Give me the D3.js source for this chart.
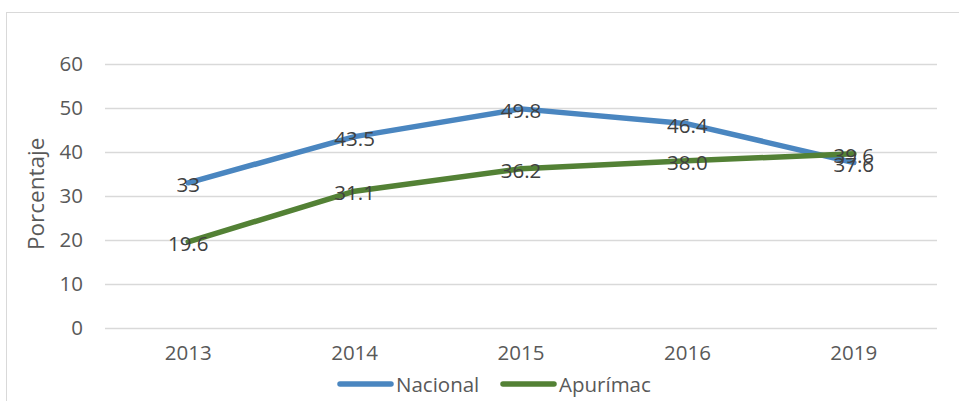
<!DOCTYPE html>
<html>
<head>
<meta charset="utf-8">
<script src="https://cdn.jsdelivr.net/npm/d3@7"></script>
<style>
  body { margin: 0; background: #fff; }
  svg text { font-family: "Open Sans", sans-serif; }
</style>
</head>
<body>
<div id="chart"></div>
<script>
// values
const years = ["2013", "2014", "2015", "2016", "2019"];
const nacional = [33, 43.5, 49.8, 46.4, 37.6];
const apurimac = [19.6, 31.1, 36.2, 38.0, 39.6];
const nacionalLabels = ["33", "43.5", "49.8", "46.4", "37.6"];
const apurimacLabels = ["19.6", "31.1", "36.2", "38.0", "39.6"];
const yTicks = [0, 10, 20, 30, 40, 50, 60];

const W = 959, H = 401;
const margin = { top: 64, right: 22, bottom: 73, left: 105 };
const width = W - margin.left - margin.right;
const height = H - margin.top - margin.bottom;
const fontSize = "20.5px";

const svg = d3.select("#chart").append("svg")
  .attr("width", W)
  .attr("height", H);

// chart area border
svg.append("rect")
  .attr("x", 6.5).attr("y", 12.5)
  .attr("width", W + 10).attr("height", H + 10)
  .attr("fill", "none")
  .attr("stroke", "#d9d9d9")
  .attr("stroke-width", 1);

const g = svg.append("g")
  .attr("transform", `translate(${margin.left},${margin.top})`);

const x = d3.scaleBand().domain(years).range([0, width]);
const y = d3.scaleLinear().domain([0, 60]).range([height, 0]);

// gridlines
g.append("g")
  .call(d3.axisLeft(y).tickValues(yTicks).tickSize(-width).tickFormat(""))
  .call(a => a.select(".domain").remove())
  .call(a => a.selectAll("line").attr("stroke", "#d9d9d9").attr("stroke-width", 1.5));

// y tick labels
g.append("g")
  .call(d3.axisLeft(y).tickValues(yTicks).tickSize(0).tickPadding(22))
  .call(a => a.select(".domain").remove())
  .call(a => a.selectAll("text").attr("fill", "#595959").style("font-size", fontSize));

// x tick labels
g.append("g")
  .attr("transform", `translate(0,${height})`)
  .call(d3.axisBottom(x).tickSize(0).tickPadding(17))
  .call(a => a.select(".domain").remove())
  .call(a => a.selectAll("text").attr("fill", "#595959").style("font-size", fontSize));

// y axis title
svg.append("text")
  .attr("transform", `translate(35,${margin.top + y(30.5)}) rotate(-90)`)
  .attr("text-anchor", "middle")
  .attr("dominant-baseline", "central")
  .attr("fill", "#595959")
  .style("font-size", "22.5px")
  .text("Porcentaje");

const series = [
  { name: "Nacional", values: nacional, labels: nacionalLabels, color: "#4a86c0" },
  { name: "Apurímac", values: apurimac, labels: apurimacLabels, color: "#538135" }
];

const line = d3.line()
  .x((d, i) => x(years[i]) + x.bandwidth() / 2)
  .y(d => y(d));

series.forEach(s => {
  g.append("path")
    .datum(s.values)
    .attr("fill", "none")
    .attr("stroke", s.color)
    .attr("stroke-width", 5.5)
    .attr("stroke-linecap", "round")
    .attr("stroke-linejoin", "round")
    .attr("d", line);
});

// data labels, centred on points
series.forEach(s => {
  g.selectAll(null)
    .data(s.values)
    .enter()
    .append("text")
    .attr("x", (d, i) => x(years[i]) + x.bandwidth() / 2)
    .attr("y", d => y(d) + 1)
    .attr("text-anchor", "middle")
    .attr("dominant-baseline", "central")
    .attr("fill", "#404040")
    .style("font-size", fontSize)
    .text((d, i) => s.labels[i]);
});

// legend
const legend = svg.append("g").attr("transform", "translate(337,384)");
const legendX = [0, 163];
series.forEach((s, i) => {
  const item = legend.append("g").attr("transform", `translate(${legendX[i]},0)`);
  item.append("line")
    .attr("x1", 3).attr("x2", 54)
    .attr("stroke", s.color)
    .attr("stroke-width", 5.5)
    .attr("stroke-linecap", "round");
  item.append("text")
    .attr("x", 59)
    .attr("dominant-baseline", "central")
    .attr("fill", "#595959")
    .style("font-size", fontSize)
    .text(s.name);
});
</script>
</body>
</html>
